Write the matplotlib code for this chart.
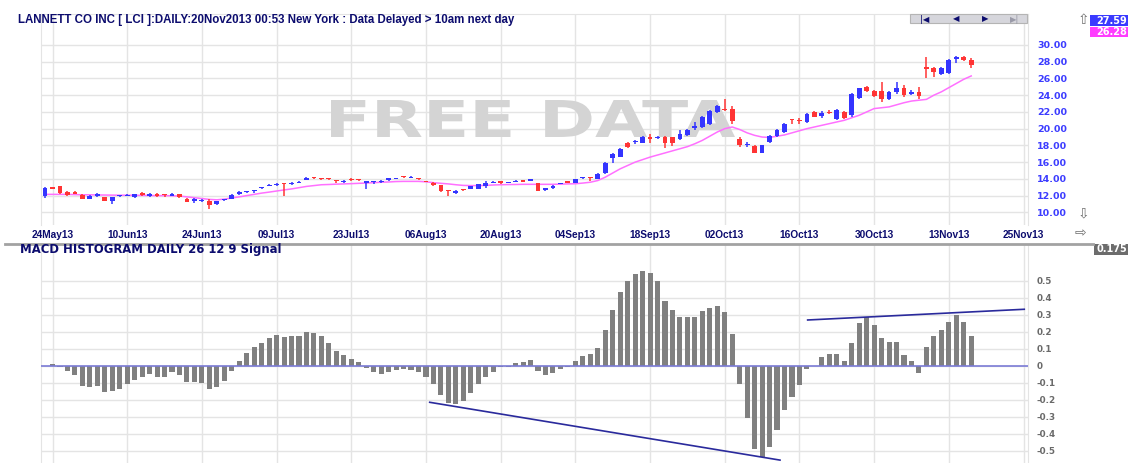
"""Daily candlestick chart with MACD histogram panel (LCI, May-Nov 2013)."""

import matplotlib

matplotlib.use("Agg")
import matplotlib.pyplot as plt
import numpy as np
from matplotlib.font_manager import FontProperties
from matplotlib.lines import Line2D
from matplotlib.patches import PathPatch, Rectangle
from matplotlib.textpath import TextPath
from matplotlib.transforms import Affine2D

TITLE = "LANNETT CO INC [ LCI ]:DAILY:20Nov2013 00:53 New York : Data Delayed > 10am next day"
MACD_TITLE = "MACD HISTOGRAM DAILY 26 12 9 Signal"
WATERMARK = "FREE DATA"

# one entry per trading bar, bar 0 = 23May13
OPEN = [12.0, 12.9, 13.1, 12.45, 12.45, 12.1, 11.65, 11.95, 11.8, 11.3,
        11.9, 12.0, 11.8, 12.3, 11.9, 12.2, 12.1, 12.0, 12.2, 11.6,
        11.3, 11.4, 11.4, 10.95, 11.45, 11.6, 12.25, 12.45, 12.5, 12.9,
        13.15, 13.25, 13.4, 13.35, 13.55, 13.9, 14.15, 14.05, 14.0, 13.8,
        13.6, 13.95, 13.95, 13.55, 13.6, 13.65, 13.85, 14.0, 14.25, 14.1,
        14.0, 13.7, 13.55, 13.25, 12.6, 12.3, 12.75, 12.8, 12.85, 13.15,
        13.5, 13.7, 13.5, 13.65, 13.85, 13.8, 13.45, 12.7, 12.9, 13.4,
        13.75, 13.5, 14.05, 14.15, 14.0, 14.7, 16.5, 16.65, 18.3, 18.35,
        18.3, 19.0, 18.85, 19.0, 18.95, 18.8, 19.2, 20.1, 20.2, 20.6,
        22.0, 22.3, 22.35, 18.8, 18.0, 17.9, 17.15, 18.35, 19.1, 19.6,
        21.05, 21.0, 20.8, 22.0, 21.5, 21.95, 21.1, 22.0, 21.6, 23.65,
        25.0, 24.55, 24.5, 23.5, 24.4, 24.8, 24.2, 24.4, 27.4, 27.2,
        26.5, 26.6, 28.3, 28.6, 28.2]
HIGH = [13.05, 13.05, 13.2, 12.5, 12.5, 12.15, 12.05, 12.3, 11.85, 11.85,
        12.05, 12.2, 12.25, 12.45, 12.3, 12.3, 12.15, 12.35, 12.25, 11.75,
        11.75, 11.55, 11.55, 11.4, 11.65, 12.15, 12.55, 12.6, 12.6, 12.95,
        13.35, 13.45, 13.5, 13.6, 13.75, 14.25, 14.2, 14.1, 14.05, 13.85,
        13.85, 14.05, 14.0, 13.8, 13.8, 13.85, 14.1, 14.1, 14.3, 14.3,
        14.05, 13.75, 13.6, 13.3, 12.65, 12.65, 12.8, 13.2, 13.4, 13.8,
        13.75, 13.75, 13.6, 13.85, 13.9, 13.95, 13.5, 12.95, 13.25, 13.55,
        13.8, 14.0, 14.25, 14.25, 14.65, 16.0, 17.05, 17.7, 18.45, 18.7,
        19.1, 19.35, 19.1, 19.1, 19.0, 19.8, 19.95, 20.85, 21.5, 22.25,
        22.8, 23.5, 22.7, 19.0, 18.35, 18.0, 18.1, 19.2, 20.0, 20.7,
        21.1, 21.3, 21.85, 22.1, 22.1, 22.2, 22.3, 22.1, 24.3, 24.9,
        25.15, 24.6, 25.55, 24.5, 25.55, 25.2, 24.6, 24.95, 28.6, 27.4,
        27.35, 28.3, 28.7, 28.7, 28.5]
LOW = [11.7, 12.8, 12.2, 12.0, 12.15, 11.55, 11.6, 11.85, 11.3, 10.95,
       11.85, 11.95, 11.75, 11.95, 11.85, 11.85, 11.8, 11.95, 11.75, 11.2,
       11.15, 11.2, 10.4, 10.9, 11.4, 11.55, 12.1, 12.3, 12.35, 12.85,
       13.1, 13.2, 11.9, 13.3, 13.5, 13.85, 13.95, 13.9, 13.9, 13.5,
       13.55, 13.8, 13.8, 12.85, 13.4, 13.5, 13.8, 13.95, 14.15, 14.05,
       13.9, 13.6, 13.2, 12.45, 11.9, 12.2, 12.6, 12.75, 12.8, 12.95,
       13.45, 13.4, 13.45, 13.6, 13.6, 13.75, 12.55, 12.6, 12.85, 13.35,
       13.45, 13.45, 14.0, 13.75, 13.95, 14.6, 15.95, 16.6, 17.7, 18.2,
       18.25, 18.3, 18.8, 17.65, 17.9, 18.6, 19.1, 19.9, 20.1, 20.4,
       21.9, 22.1, 20.5, 17.75, 17.75, 17.05, 17.05, 18.3, 19.0, 19.5,
       20.6, 20.6, 20.7, 21.35, 21.25, 21.8, 21.0, 21.2, 21.4, 23.6,
       24.35, 23.8, 23.2, 23.4, 24.2, 23.8, 24.0, 23.6, 26.0, 26.15,
       26.4, 26.55, 27.9, 28.1, 27.3]
CLOSE = [12.9, 12.85, 12.3, 12.1, 12.2, 11.6, 12.0, 12.15, 11.35, 11.8,
         11.95, 12.1, 12.2, 12.05, 12.2, 11.9, 12.05, 12.25, 11.8, 11.25,
         11.65, 11.5, 10.85, 11.3, 11.55, 12.1, 12.4, 12.55, 12.6, 12.95,
         13.25, 13.35, 13.35, 13.55, 13.65, 14.15, 14.1, 14.0, 13.95, 13.7,
         13.8, 13.9, 13.9, 13.75, 13.7, 13.75, 14.05, 14.05, 14.2, 14.2,
         13.95, 13.65, 13.25, 12.5, 12.5, 12.6, 12.7, 13.15, 13.35, 13.45,
         13.6, 13.55, 13.55, 13.8, 13.65, 13.85, 12.6, 12.9, 13.2, 13.5,
         13.5, 13.95, 14.15, 14.1, 14.55, 15.95, 17.0, 17.6, 17.8, 18.55,
         19.0, 18.8, 19.0, 18.3, 18.3, 19.4, 19.85, 20.35, 21.4, 22.1,
         22.65, 22.2, 20.9, 18.1, 18.2, 17.15, 18.0, 19.1, 19.9, 20.6,
         21.0, 20.95, 21.75, 21.4, 21.9, 21.85, 22.2, 21.3, 24.2, 24.8,
         24.45, 23.95, 23.6, 24.4, 24.9, 24.0, 24.3, 23.85, 27.1, 26.8,
         27.25, 28.2, 28.6, 28.2, 27.6]
MOVING_AVG = [12.15, 12.15, 12.15, 12.15, 12.12, 12.1, 12.1, 12.08, 12.07, 12.06,
              12.05, 12.05, 12.04, 12.03, 12.02, 12.0, 12.0, 11.98, 11.95, 11.85,
              11.75, 11.65, 11.55, 11.5, 11.58, 11.72, 11.85, 12.0, 12.15, 12.3,
              12.42, 12.55, 12.68, 12.8, 12.95, 13.1, 13.2, 13.3, 13.33, 13.37,
              13.4, 13.43, 13.47, 13.5, 13.55, 13.6, 13.63, 13.68, 13.7, 13.7,
              13.7, 13.65, 13.55, 13.47, 13.4, 13.3, 13.22, 13.2, 13.2, 13.22,
              13.27, 13.3, 13.32, 13.33, 13.35, 13.35, 13.35, 13.35, 13.35, 13.37,
              13.4, 13.42, 13.5, 13.6, 13.8, 14.2, 14.7, 15.2, 15.6, 16.0,
              16.3, 16.6, 16.85, 17.1, 17.35, 17.6, 17.85, 18.2, 18.6, 19.1,
              19.6, 20.0, 20.2, 19.9, 19.5, 19.2, 19.0, 18.95, 19.1, 19.25,
              19.5, 19.75, 20.0, 20.2, 20.4, 20.6, 20.8, 21.0, 21.3, 21.6,
              22.0, 22.4, 22.5, 22.6, 22.85, 23.1, 23.3, 23.4, 23.5, 24.0,
              24.4, 24.9, 25.4, 25.9, 26.3]
MACD_HIST = [0.0, 0.01, -0.005, -0.03, -0.055, -0.118, -0.124, -0.118, -0.157, -0.149,
             -0.135, -0.108, -0.086, -0.067, -0.051, -0.065, -0.065, -0.035, -0.055, -0.096,
             -0.098, -0.104, -0.135, -0.125, -0.088, -0.031, 0.025, 0.076, 0.112, 0.135,
             0.165, 0.178, 0.169, 0.176, 0.175, 0.198, 0.19, 0.173, 0.133, 0.086,
             0.063, 0.037, 0.022, -0.012, -0.035, -0.051, -0.039, -0.027, -0.02, -0.025,
             -0.035, -0.065, -0.108, -0.173, -0.218, -0.225, -0.206, -0.163, -0.108, -0.069,
             -0.035, -0.01, -0.01, 0.014, 0.022, 0.033, -0.031, -0.053, -0.041, -0.022,
             -0.01, 0.029, 0.057, 0.069, 0.106, 0.21, 0.33, 0.433, 0.496, 0.537,
             0.559, 0.543, 0.496, 0.378, 0.325, 0.288, 0.284, 0.284, 0.322, 0.337,
             0.351, 0.316, 0.184, -0.108, -0.31, -0.492, -0.539, -0.476, -0.375, -0.261,
             -0.182, -0.114, -0.022, 0.0, 0.049, 0.069, 0.069, 0.025, 0.131, 0.249,
             0.284, 0.237, 0.165, 0.139, 0.139, 0.063, 0.029, -0.045, 0.11, 0.173,
             0.21, 0.259, 0.298, 0.259, 0.175]

DATE_LABELS = ["24May13", "10Jun13", "24Jun13", "09Jul13", "23Jul13", "06Aug13",
               "20Aug13", "04Sep13", "18Sep13", "02Oct13", "16Oct13", "30Oct13",
               "13Nov13", "25Nov13"]
DATE_BARS = [1, 11, 21, 31, 41, 51, 61, 71, 81, 91, 101, 111, 121, 131]
PRICE_TICKS = [10, 12, 14, 16, 18, 20, 22, 24, 26, 28, 30]
MACD_TICKS = [-0.5, -0.4, -0.3, -0.2, -0.1, 0, 0.1, 0.2, 0.3, 0.4, 0.5]

# hand-drawn divergence lines on the histogram (bar, value)
LOWER_TREND_BARS = [51.5, 98.4]
LOWER_TREND_VALS = [-0.215, -0.555]
UPPER_TREND_BARS = [102.1, 131.1]
UPPER_TREND_VALS = [0.269, 0.332]

LAST_CLOSE = "27.59"
LAST_AVG = "26.28"
LAST_HIST = "0.175"

W, H = 1128, 463
UP = "#3434ff"
DOWN = "#ff3434"
NAVY = "#0c0c6e"
GRID = "#e4e4e4"
FONT = "Liberation Sans"
WIDE = "DejaVu Sans"


def fx(px):
    return px / W


def fy(py):
    return 1 - py / H


def draw_candles(ax):
    o, h, l, c = (np.asarray(a) for a in (OPEN, HIGH, LOW, CLOSE))
    x = np.arange(len(o))
    col = np.where(c >= o, UP, DOWN)
    ax.vlines(x, l, h, colors=col, lw=1.1, zorder=3)
    body_lo = np.minimum(o, c)
    body_h = np.maximum(np.abs(c - o), 0.13)
    ax.bar(x, body_h, bottom=body_lo, width=0.64, color=col, lw=0, zorder=4)
    ax.plot(x, MOVING_AVG, color="#ff70ff", lw=1.1, zorder=2.5)


def add_watermark(ax):
    tp = TextPath((0, 0), WATERMARK, size=1,
                  prop=FontProperties(family="DejaVu Sans", weight="bold"))
    bb = tp.get_extents()
    x0, x1 = fx(331), fx(735)
    y0, y1 = fy(137), fy(100)
    tr = (Affine2D().translate(-bb.x0, -bb.y0)
          .scale((x1 - x0) / bb.width, (y1 - y0) / bb.height)
          .translate(x0, y0)) + ax.figure.transFigure
    ax.add_patch(PathPatch(tp, transform=tr, facecolor="#d4d4d4", lw=0, zorder=1.5))


def style_panel(ax):
    ax.set_facecolor("white")
    for side in ("top", "bottom"):
        ax.spines[side].set_visible(False)
    for side in ("left", "right"):
        ax.spines[side].set_color(GRID)
    ax.set_xlim(-0.54, 131.6)
    ax.set_xticks(DATE_BARS)
    ax.grid(True, color=GRID, lw=1.0, zorder=0)
    ax.set_axisbelow(True)
    ax.yaxis.tick_right()


def box(fig, x0, y0, x1, y1, color, text):
    fig.add_artist(Rectangle((fx(x0), fy(y1)), fx(x1) - fx(x0), fy(y0) - fy(y1),
                             transform=fig.transFigure, facecolor=color, lw=0))
    fig.text(fx(x1 - 1), fy((y0 + y1) / 2), text, color="white", fontsize=7,
             fontweight="bold", family=WIDE, ha="right", va="center")


def main():
    fig = plt.figure(figsize=(W / 100, H / 100), dpi=100, facecolor="white")
    ax_p = fig.add_axes([fx(41), fy(225), fx(1028) - fx(41), fy(14) - fy(225)])
    ax_m = fig.add_axes([fx(41), fy(463), fx(1028) - fx(41), fy(245) - fy(463)])

    # price panel
    style_panel(ax_p)
    ax_p.spines["top"].set_visible(True)
    ax_p.spines["top"].set_color(GRID)
    draw_candles(ax_p)
    add_watermark(ax_p)
    ax_p.set_ylim(8.49, 33.7)
    ax_p.set_yticks(PRICE_TICKS)
    ax_p.set_yticklabels([f"{v:.2f}" for v in PRICE_TICKS])
    ax_p.set_xticklabels(DATE_LABELS)
    ax_p.tick_params(axis="y", length=0, pad=6.5, labelsize=6.8, labelcolor="#3c3cff")
    ax_p.tick_params(axis="x", length=0, pad=3.5, labelsize=7.3, labelcolor=NAVY)
    for lab in ax_p.get_xticklabels():
        lab.set_fontweight("bold")
        lab.set_family(FONT)
    for lab in ax_p.get_yticklabels():
        lab.set_fontweight("bold")
        lab.set_family(WIDE)

    # MACD panel
    style_panel(ax_m)
    x = np.arange(len(MACD_HIST))
    ax_m.bar(x, MACD_HIST, width=0.68, color="#808080", lw=0, zorder=3)
    ax_m.axhline(0, color="#7b7bd6", lw=1.2, zorder=4)
    ax_m.plot(LOWER_TREND_BARS, LOWER_TREND_VALS, color="#2a2a9c", lw=1.2, zorder=5)
    ax_m.plot(UPPER_TREND_BARS, UPPER_TREND_VALS, color="#2a2a9c", lw=1.2, zorder=5)
    ax_m.set_ylim(-0.572, 0.71)
    ax_m.set_yticks(MACD_TICKS)
    ax_m.set_yticklabels([f"{v:g}" for v in MACD_TICKS])
    ax_m.tick_params(axis="y", length=0, pad=6, labelsize=6.3, labelcolor="#6a6a6a")
    ax_m.tick_params(axis="x", length=0, labelbottom=False)
    for lab in ax_m.get_yticklabels():
        lab.set_fontweight("bold")
        lab.set_family(WIDE)

    # titles and chrome
    fig.text(fx(18), fy(20), TITLE, color=NAVY, fontsize=8.3, fontweight="bold",
             family=FONT, va="center")
    fig.text(fx(20), fy(250), MACD_TITLE, color=NAVY, fontsize=8.4, fontweight="bold",
             family=WIDE, va="center")
    fig.add_artist(Line2D([fx(5), fx(1093)], [fy(243.5), fy(243.5)],
                          transform=fig.transFigure, color="#a2a2a2", lw=2))

    fig.add_artist(Rectangle((fx(910), fy(23)), fx(117), fy(0) - fy(9),
                             transform=fig.transFigure, facecolor="#d6d6dc",
                             edgecolor="#b4b4b4", lw=0.8))
    for px, sym, col in [(925, "|◀", NAVY), (956, "◀", NAVY), (985, "▶", NAVY),
                         (1015, "▶|", "#9a9aa8")]:
        fig.text(fx(px), fy(19), sym, color=col, fontsize=6, ha="center",
                 va="center", family="DejaVu Sans")

    for px, py, sym in [(1083, 20, "⇧"), (1083, 213, "⇩"), (1080, 233, "⇨")]:
        fig.text(fx(px), fy(py), sym, color="#707070", fontsize=10, ha="center",
                 va="center", family="DejaVu Sans")

    box(fig, 1090, 15, 1128, 26, "#3a3aff", LAST_CLOSE)
    box(fig, 1090, 27, 1128, 37, "#ff3cff", LAST_AVG)
    box(fig, 1094, 244, 1128, 255, "#6c6c6c", LAST_HIST)

    fig.savefig("out.png", dpi=100, facecolor="white")
    plt.close(fig)


if __name__ == "__main__":
    main()
